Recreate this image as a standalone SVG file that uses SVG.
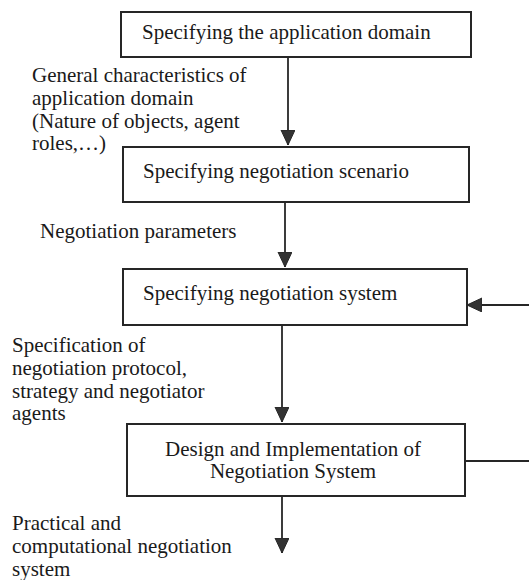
<svg xmlns="http://www.w3.org/2000/svg" width="529" height="580" viewBox="0 0 529 580">
  <style>
    .box { fill: #ffffff; stroke: #262626; stroke-width: 2; }
    .line { fill: none; stroke: #262626; stroke-width: 1.8; }
    text { font-family: "Liberation Serif", "Times New Roman", serif; font-size: 21px; fill: #1a1a1a; }
    .c { text-anchor: middle; }
  </style>
  <defs>
    <marker id="arrow" markerUnits="userSpaceOnUse" markerWidth="16" markerHeight="16" refX="15" refY="7" orient="auto">
      <path d="M0,0 L15,7 L0,14 z" fill="#333333" stroke="#262626" stroke-width="1"/>
    </marker>
  </defs>
  <rect width="529" height="580" fill="#ffffff"/>

  <g id="connectors">
    <line class="line" x1="288" y1="57" x2="288" y2="145" marker-end="url(#arrow)"/>
    <line class="line" x1="285" y1="202" x2="285" y2="267" marker-end="url(#arrow)"/>
    <line class="line" x1="529" y1="305" x2="467" y2="305" marker-end="url(#arrow)"/>
    <line class="line" x1="282" y1="325" x2="282" y2="422" marker-end="url(#arrow)"/>
    <line class="line" x1="465" y1="461" x2="529" y2="461"/>
    <line class="line" x1="282" y1="496" x2="282" y2="553" marker-end="url(#arrow)"/>
  </g>

  <g id="node-application-domain">
    <rect class="box" x="121" y="12" width="350" height="45"/>
    <text x="142" y="39">Specifying the application domain</text>
  </g>
  <g id="node-negotiation-scenario">
    <rect class="box" x="123" y="147" width="346" height="55"/>
    <text x="143" y="178">Specifying negotiation scenario</text>
  </g>
  <g id="node-negotiation-system">
    <rect class="box" x="123" y="269" width="344" height="56"/>
    <text x="143" y="300">Specifying negotiation system</text>
  </g>
  <g id="node-design-implementation">
    <rect class="box" x="127" y="424" width="338" height="72"/>
    <text class="c" x="293" y="456">Design and Implementation of</text>
    <text class="c" x="293" y="478">Negotiation System</text>
  </g>

  <g id="labels">
    <text x="32" y="82">General characteristics of</text>
    <text x="32" y="105">application domain</text>
    <text x="32" y="128">(Nature of objects, agent</text>
    <text x="32" y="150">roles,…)</text>
    <text x="40" y="238">Negotiation parameters</text>
    <text x="12" y="352">Specification of</text>
    <text x="12" y="375">negotiation protocol,</text>
    <text x="12" y="398">strategy and negotiator</text>
    <text x="12" y="420">agents</text>
    <text x="12" y="530">Practical and</text>
    <text x="12" y="553">computational negotiation</text>
    <text x="12" y="576">system</text>
  </g>
</svg>
